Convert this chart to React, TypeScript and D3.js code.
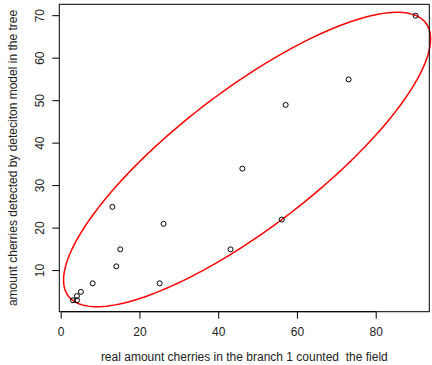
import React from 'react';
import * as d3 from 'd3';

// observations (field count vs detected count)
const realCount = [90, 73, 57, 46, 56, 43, 13, 26, 15, 14, 8, 25, 5, 4, 3, 4];
const detectedCount = [70, 55, 49, 34, 22, 15, 25, 21, 15, 11, 7, 7, 5, 4, 3, 3];

const xTicks = [0, 20, 40, 60, 80];
const yTicks = [10, 20, 30, 40, 50, 60, 70];

// ellipse: centre, spread and correlation in data units
const ellipseCenter = [47.2, 36.15];
const ellipseSpread = [46.6, 34.65];
const ellipseCorr = 0.819;

const xLabel = 'real amount cherries in the branch 1 counted  the field';
const yLabel = 'amount cherries detected by deteciton model in the tree';

const W = 432;
const H = 365;
const margin = { top: 4.3, right: 2.7, bottom: 53.3, left: 59.3 };

// R-style 4% axis padding
const padExtent = (vals: number[]) => {
  const [lo, hi] = d3.extent(vals) as [number, number];
  const p = (hi - lo) * 0.04;
  return [lo - p, hi + p];
};

export default function App() {
  const left = margin.left;
  const right = W - margin.right;
  const top = margin.top;
  const bottom = H - margin.bottom;

  const x = d3.scaleLinear().domain(padExtent(realCount)).range([left, right]);
  const y = d3.scaleLinear().domain(padExtent(detectedCount)).range([bottom, top]);

  const pts = realCount.map((v, i) => ({ x: v, y: detectedCount[i] }));

  const ring = d3.range(0, 361, 2).map((deg) => {
    const t = (deg * Math.PI) / 180;
    const ex = ellipseCenter[0] + ellipseSpread[0] * Math.cos(t);
    const ey =
      ellipseCenter[1] +
      ellipseSpread[1] * (ellipseCorr * Math.cos(t) + Math.sqrt(1 - ellipseCorr * ellipseCorr) * Math.sin(t));
    return [x(ex), y(ey)] as [number, number];
  });
  const ellipsePath = d3.line().curve(d3.curveLinearClosed)(ring) || '';

  const font = '"Liberation Sans", Arial, sans-serif';
  const tickLen = 7;

  return (
    <svg width={W} height={H} style={{ position: 'absolute', left: 0, top: 0, background: '#fff' }}>
      <path d={ellipsePath} fill="none" stroke="#f00" strokeWidth={1.5} />

      {pts.map((d, i) => (
        <circle key={i} cx={x(d.x)} cy={y(d.y)} r={2.5} fill="none" stroke="#000" strokeWidth={1} />
      ))}

      {/* box */}
      <rect x={left} y={top} width={right - left} height={bottom - top} fill="none" stroke="#000" strokeWidth={1} />

      {/* x axis */}
      <line x1={x(xTicks[0])} x2={x(xTicks[xTicks.length - 1])} y1={bottom} y2={bottom} stroke="#000" />
      {xTicks.map((t) => (
        <g key={t}>
          <line x1={x(t)} x2={x(t)} y1={bottom} y2={bottom + tickLen} stroke="#000" />
          <text x={x(t)} y={bottom + 24} textAnchor="middle" fontFamily={font} fontSize={12} fill="#222">
            {t}
          </text>
        </g>
      ))}

      {/* y axis */}
      {yTicks.map((t) => (
        <g key={t}>
          <line x1={left - tickLen} x2={left} y1={y(t)} y2={y(t)} stroke="#000" />
          <text
            transform={`translate(${left - 15},${y(t)}) rotate(-90)`}
            textAnchor="middle"
            fontFamily={font}
            fontSize={12}
            fill="#222"
          >
            {t}
          </text>
        </g>
      ))}

      <text
        x={(left + right) / 2}
        y={361}
        textAnchor="middle"
        fontFamily={font}
        fontSize={12}
        fill="#222"
        style={{ whiteSpace: 'pre' }}
      >
        {xLabel}
      </text>
      <text
        transform={`translate(17,${(top + bottom) / 2}) rotate(-90)`}
        textAnchor="middle"
        fontFamily={font}
        fontSize={12}
        fill="#222"
      >
        {yLabel}
      </text>
    </svg>
  );
}
